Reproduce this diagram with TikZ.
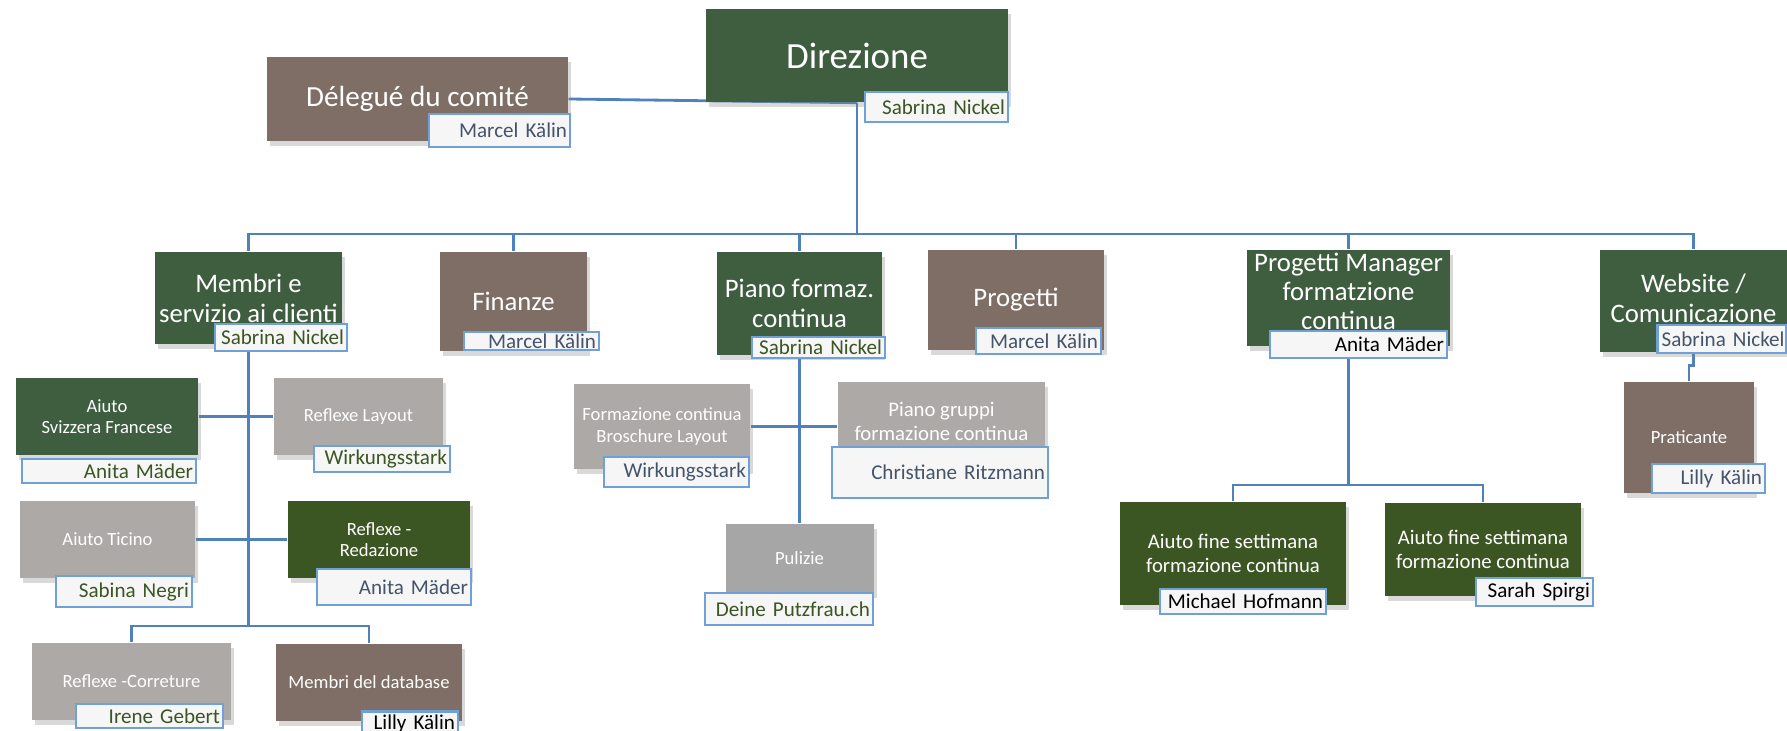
\documentclass[tikz,border=0pt]{standalone}
\usepackage{fontspec}
\setmainfont{Carlito}
\usetikzlibrary{shadows,backgrounds}

\definecolor{dirgreen}{HTML}{3F5E40}
\definecolor{taupe}{HTML}{7F6E66}
\definecolor{stone}{HTML}{ADA9A7}
\definecolor{ash}{HTML}{A6A6A6}
\definecolor{leaf}{HTML}{3B5623}
\definecolor{linkblue}{HTML}{4F81BD}
\definecolor{frameblue}{HTML}{6FA0D8}
\definecolor{namegreen}{HTML}{3B5623}
\definecolor{slate}{HTML}{44546A}

\begin{document}
\begin{tikzpicture}[
    unit/.style={
        rectangle,
        inner sep=1pt,
        align=center,
        text=white,
        drop shadow={shadow xshift=0.03cm, shadow yshift=-0.05cm, opacity=0.3}
    },
    head/.style={unit, fill=dirgreen},
    tan/.style={unit, fill=taupe},
    pale/.style={unit, fill=stone},
    ashbox/.style={unit, fill=ash},
    leafbox/.style={unit, fill=leaf},
    lvl/.style={font=\fontsize{7.6}{8.6}\selectfont},
    sml/.style={font=\fontsize{5.3}{6.1}\selectfont},
    mid/.style={font=\fontsize{5.9}{6.8}\selectfont},
    person/.style={
        draw=frameblue,
        line width=0.6pt,
        fill=gray!7,
        inner xsep=0.03cm,
        inner ysep=0pt,
        align=right,
        font=\fontsize{6}{7}\selectfont
    },
    link/.style={
        draw=linkblue,
        line width=0.8pt
    }
]
\useasboundingbox (0,0) rectangle (17.87,-7.31);

% top
\node[head, font=\fontsize{10.5}{12}\selectfont, minimum width=3.02cm, minimum height=0.93cm] (dir) at (8.57,-0.555) {Direzione};
\node[tan, font=\fontsize{8.3}{10}\selectfont, minimum width=3.01cm, minimum height=0.84cm] (dlg) at (4.175,-0.99) {Délegué du comité};

% first level
\node[head, lvl, minimum width=1.87cm, minimum height=0.92cm] (mem) at (2.485,-2.98) {Membri e\\servizio ai clienti};
\node[tan, lvl, minimum width=1.47cm, minimum height=0.99cm] (fin) at (5.135,-3.015) {Finanze};
\node[head, lvl, minimum width=1.65cm, minimum height=1.03cm] (pia) at (7.995,-3.035) {Piano formaz.\\continua};
\node[tan, lvl, minimum width=1.76cm, minimum height=1.00cm] (pro) at (10.16,-3.00) {Progetti};
\node[head, font=\fontsize{7.6}{8.2}\selectfont, inner sep=0pt, text depth=0.14cm, minimum width=2.03cm, minimum height=0.96cm] (pm) at (13.485,-2.98) {Progetti Manager\\formatzione\\continua};
\node[head, lvl, inner sep=0pt, text depth=0.06cm, minimum width=1.87cm, minimum height=1.02cm] (web) at (16.935,-3.01) {Website /\\Comunicazione};

% Membri
\node[head, sml, minimum width=1.82cm, minimum height=0.77cm] (aiutofr) at (1.07,-4.165) {Aiuto\\Svizzera Francese};
\node[pale, sml, minimum width=1.69cm, minimum height=0.77cm] (reflay) at (3.585,-4.165) {Reflexe Layout};
\node[pale, sml, minimum width=1.75cm, minimum height=0.77cm] (ticino) at (1.075,-5.395) {Aiuto Ticino};
\node[leafbox, sml, minimum width=1.82cm, minimum height=0.77cm] (redaz) at (3.79,-5.395) {Reflexe -\\Redazione};
\node[pale, sml, minimum width=1.99cm, minimum height=0.77cm] (corr) at (1.315,-6.815) {Reflexe -Correture};
\node[tan, sml, minimum width=1.86cm, minimum height=0.77cm] (mdb) at (3.69,-6.825) {Membri del database};

% Piano formaz.
\node[pale, sml, minimum width=1.76cm, minimum height=0.85cm] (form) at (6.62,-4.265) {Formazione continua\\Broschure Layout};
\node[pale, mid, minimum width=2.07cm, minimum height=0.78cm] (pgr) at (9.415,-4.21) {Piano gruppi\\formazione continua};
\node[ashbox, sml, minimum width=1.48cm, minimum height=0.69cm] (pul) at (7.995,-5.585) {Pulizie};

% Progetti Manager
\node[leafbox, mid, minimum width=2.26cm, minimum height=1.03cm] (afs1) at (12.33,-5.535) {Aiuto fine settimana\\formazione continua};
\node[leafbox, mid, minimum width=1.96cm, minimum height=0.93cm] (afs2) at (14.83,-5.495) {Aiuto fine settimana\\formazione continua};

% Website
\node[tan, sml, minimum width=1.30cm, minimum height=1.11cm] (prat) at (16.89,-4.375) {Praticante};

% names
\node[person, text=namegreen, text width=1.37cm, minimum height=0.30cm] (dirp) at (9.365,-1.07) {Sabrina Nickel};
\node[person, text=slate, text width=1.35cm, minimum height=0.33cm] (dlgp) at (4.995,-1.305) {Marcel Kälin};
\node[person, text=namegreen, text width=1.26cm, minimum height=0.27cm] (memp) at (2.81,-3.375) {Sabrina Nickel};
\node[person, text=slate, text width=1.29cm, minimum height=0.18cm] (finp) at (5.315,-3.41) {Marcel Kälin};
\node[person, text=namegreen, text width=1.27cm, minimum height=0.21cm] (piap) at (8.185,-3.475) {Sabrina Nickel};
\node[person, text=slate, text width=1.19cm, minimum height=0.26cm] (prop) at (10.385,-3.41) {Marcel Kälin};
\node[person, text=black, text width=1.71cm, minimum height=0.27cm] (pmp) at (13.585,-3.445) {Anita Mäder};
\node[person, text=slate, inner xsep=0.02cm, text width=1.25cm, minimum height=0.28cm] (webp) at (17.22,-3.39) {Sabrina Nickel};
\node[person, text=namegreen, text width=1.68cm, minimum height=0.24cm] (aiutofrp) at (1.09,-4.71) {Anita Mäder};
\node[person, text=namegreen, text width=1.30cm, minimum height=0.26cm] (reflayp) at (3.82,-4.59) {Wirkungsstark};
\node[person, text=namegreen, text width=1.30cm, minimum height=0.31cm] (ticinop) at (1.24,-5.915) {Sabina Negri};
\node[person, text=slate, text width=1.48cm, minimum height=0.36cm] (redazp) at (3.94,-5.87) {Anita Mäder};
\node[person, text=namegreen, text width=1.41cm, minimum height=0.24cm] (corrp) at (1.495,-7.16) {Irene Gebert};
\node[person, text=black, text width=0.90cm, minimum height=0.24cm] (mdbp) at (4.10,-7.235) {Lilly Kälin};
\node[person, text=slate, text width=1.39cm, minimum height=0.30cm] (formp) at (6.765,-4.72) {Wirkungsstark};
\node[person, text=slate, text width=2.10cm, minimum height=0.51cm] (pgrp) at (9.40,-4.725) {Christiane Ritzmann};
\node[person, text=namegreen, text width=1.62cm, minimum height=0.32cm] (pulp) at (7.89,-6.09) {Deine Putzfrau.ch};
\node[person, text=black, text width=1.60cm, minimum height=0.25cm] (afs1p) at (12.43,-6.015) {Michael Hofmann};
\node[person, text=black, text width=1.11cm, minimum height=0.28cm] (afs2p) at (15.345,-5.92) {Sarah Spirgi};
\node[person, text=slate, text width=1.07cm, minimum height=0.29cm] (pratp) at (17.085,-4.785) {Lilly Kälin};

\coordinate (bus) at (8.57,-2.34);
\coordinate (msub) at (2.485,-6.26);
\coordinate (pmsub) at (13.485,-4.85);

\begin{scope}[on background layer]
\draw[link] (dlg.east) -- (dir.south);
\draw[link] (dir.south) -- (bus);
\foreach \n in {mem,fin,pia,pro,pm,web}
    \draw[link] (bus) -| (\n.north);

\draw[link] (mem.south) -- (msub);
\draw[link] (aiutofr) -- (reflay);
\draw[link] (ticino) -- (redaz);
\draw[link] (msub) -| (corr.north);
\draw[link] (msub) -| (mdb.north);

\draw[link] (pia.south) -- (pul.north);
\draw[link] (form.east) -- (form.east -| pgr.west);

\draw[link] (pm.south) -- (pmsub);
\draw[link] (pmsub) -| (afs1.north);
\draw[link] (pmsub) -| (afs2.north);

\draw[link] (web.south) -- ++(0,-0.13) -| (prat.north);
\end{scope}

\end{tikzpicture}
\end{document}
